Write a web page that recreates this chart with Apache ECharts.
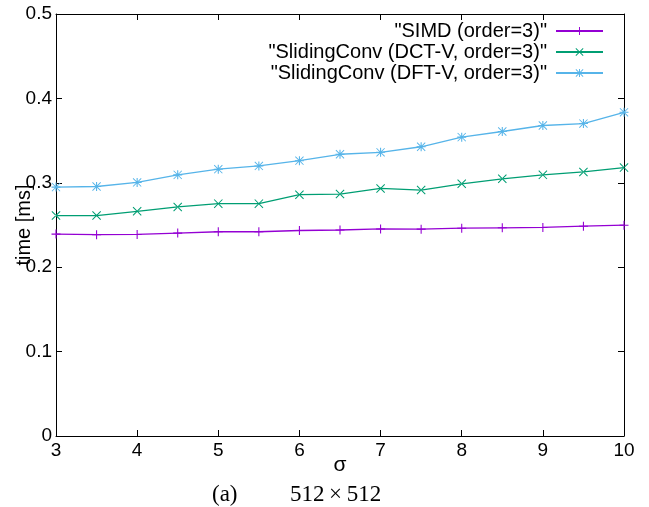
<!DOCTYPE html>
<html>
<head>
<meta charset="utf-8">
<script src="https://cdn.jsdelivr.net/npm/echarts@6/dist/echarts.min.js"></script>
<style>
  html, body { margin: 0; padding: 0; background: #fff; }
  #chart { width: 649px; height: 507px; }
</style>
</head>
<body>
<div id="chart"></div>
<script>
// sigma values on the x axis
const sigma = [3, 3.5, 4, 4.5, 5, 5.5, 6, 6.5, 7, 7.5, 8, 8.5, 9, 9.5, 10];

// time [ms]
const simd = [0.2392, 0.2385, 0.2388, 0.2404, 0.2420, 0.2420, 0.2435, 0.2441,
              0.2453, 0.2451, 0.2462, 0.2467, 0.2471, 0.2486, 0.2498];
const dctV = [0.2612, 0.2612, 0.2662, 0.2714, 0.2753, 0.2753, 0.2859, 0.2867,
              0.2933, 0.2914, 0.2988, 0.3047, 0.3094, 0.3129, 0.3180];
const dftV = [0.2949, 0.2956, 0.3004, 0.3094, 0.3161, 0.3200, 0.3262, 0.3338,
              0.3361, 0.3427, 0.3541, 0.3608, 0.3679, 0.3702, 0.3835];

const seriesNames = ['"SIMD (order=3)"', '"SlidingConv (DCT-V, order=3)"', '"SlidingConv (DFT-V, order=3)"'];
const colors = ['#9400d3', '#009e73', '#56b4e9'];

// gnuplot-like point shapes: +, x, *
const plusPath = 'path://M0,4.4H10V5.6H0Z M4.4,0H5.6V10H4.4Z';
const crossPath = 'path://M0,0.8L0.8,0L10,9.2L9.2,10Z M10,0.8L9.2,0L0,9.2L0.8,10Z';
const starPath = 'path://M0,4.4H10V5.6H0Z M4.4,0H5.6V10H4.4Z M0.8,0.1L9.9,9.2L9.2,9.9L0.1,0.8Z M9.2,0.1L9.9,0.8L0.8,9.9L0.1,9.2Z';
const symbols = [plusPath, crossPath, starPath];

function pairs(xs, ys) {
  return xs.map((x, i) => [x, ys[i]]);
}

const chart = echarts.init(document.getElementById('chart'));

const font = 'Liberation Sans, Arial, sans-serif';
const axisLine = { show: true, onZero: false, lineStyle: { color: '#000', width: 1 } };
const tick = { show: true, inside: true, length: 6, lineStyle: { color: '#000' } };

const options = {
  animation: false,
  backgroundColor: '#fff',
  grid: { left: 56, right: 25, top: 14, bottom: 71, containLabel: false, outerBoundsMode: 'none' },
  legend: {
    orient: 'vertical',
    align: 'right',
    right: 40,
    top: 16,
    itemWidth: 47,
    itemHeight: 10,
    itemGap: 1,
    textStyle: { fontFamily: font, fontSize: 20, color: '#000', padding: [0, 4, 0, 0] },
    data: seriesNames
  },
  graphic: [
    { type: 'text', left: 212, top: 483, style: { text: '(a)', font: '23px "Liberation Serif", serif', fill: '#000' } },
    { type: 'text', left: 290, top: 483, style: { text: '512\u2009×\u2009512', font: '23px "Liberation Serif", serif', fill: '#000' } }
  ],
  xAxis: [
    {
      type: 'value', min: 3, max: 10, interval: 1,
      name: 'σ', nameLocation: 'middle', nameGap: 19, nameMoveOverlap: false,
      nameTextStyle: { fontFamily: font, fontSize: 21, color: '#000' },
      axisLine: axisLine,
      axisTick: tick,
      axisLabel: { fontFamily: font, fontSize: 19, color: '#000', margin: 5 },
      splitLine: { show: false }
    },
    {
      type: 'value', position: 'top', min: 3, max: 10, interval: 1,
      axisLine: axisLine,
      axisTick: tick,
      axisLabel: { show: false },
      splitLine: { show: false }
    }
  ],
  yAxis: [
    {
      type: 'value', min: 0, max: 0.5, interval: 0.1,
      name: 'time [ms]', nameLocation: 'middle', nameGap: 22, nameMoveOverlap: false,
      nameTextStyle: { fontFamily: font, fontSize: 20, color: '#000' },
      axisLine: axisLine,
      axisTick: tick,
      axisLabel: { fontFamily: font, fontSize: 19, color: '#000', margin: 4 },
      splitLine: { show: false }
    },
    {
      type: 'value', position: 'right', min: 0, max: 0.5, interval: 0.1,
      axisLine: axisLine,
      axisTick: tick,
      axisLabel: { show: false },
      splitLine: { show: false }
    }
  ],
  series: [simd, dctV, dftV].map((vals, i) => ({
    name: seriesNames[i],
    type: 'line',
    xAxisIndex: 0,
    yAxisIndex: 0,
    data: pairs(sigma, vals),
    symbol: symbols[i],
    symbolSize: 9,
    showAllSymbol: true,
    color: colors[i],
    lineStyle: { color: colors[i], width: 1.3 },
    itemStyle: { color: colors[i] }
  }))
};

chart.setOption(options);
</script>
</body>
</html>
